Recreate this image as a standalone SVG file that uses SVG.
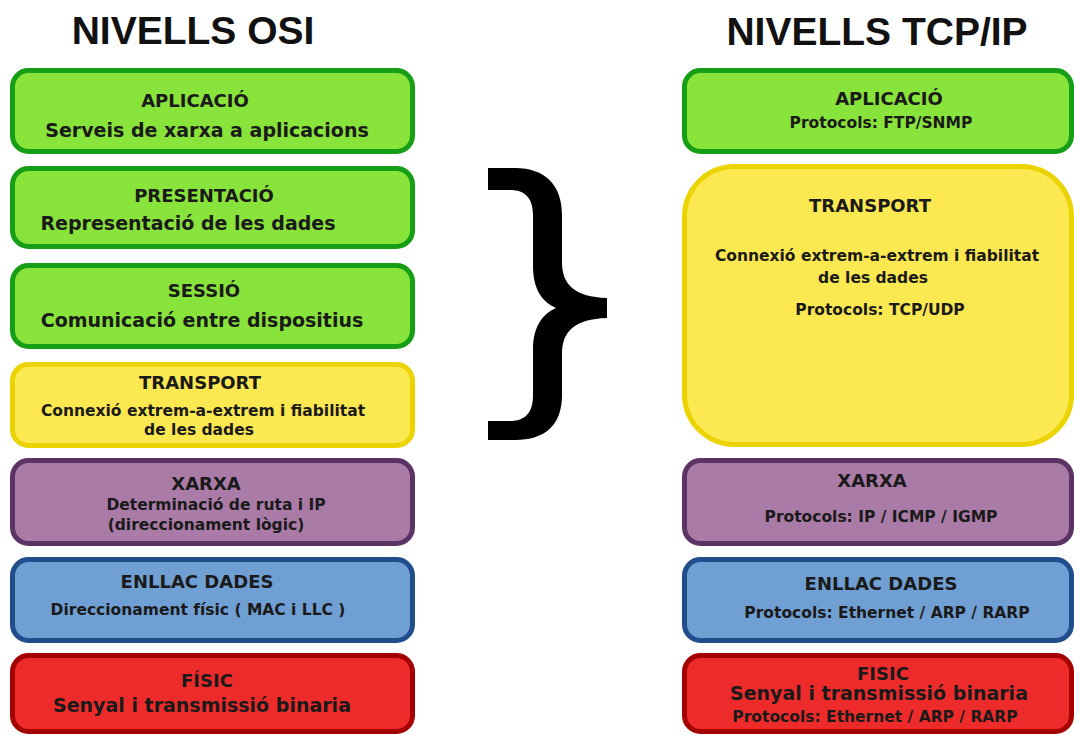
<svg xmlns="http://www.w3.org/2000/svg" width="1074" height="735" viewBox="0 0 1074 735">
  <style>
    .title { font-family: "Liberation Sans", Arial, sans-serif; font-weight: bold; font-size: 39px; fill: #111; text-anchor: middle; }
    .h, .t, .s { font-family: "DejaVu Sans", Verdana, sans-serif; font-weight: bold; fill: #1a1a1a; text-anchor: middle; }
    .h { font-size: 18px; }
    .t { font-size: 19px; }
    .s { font-size: 15.5px; }
    .box { stroke-width: 5; }
    .green { fill: #88e33a; stroke: #169e16; }
    .yellow { fill: #fce850; stroke: #ebd300; }
    .purple { fill: #ab7ba7; stroke: #5b3465; }
    .blue { fill: #6f9fd3; stroke: #204e8b; }
    .red { fill: #ee2b2b; stroke: #a50000; }
  </style>
  <rect width="1074" height="735" fill="#ffffff"/>

  <text class="title" x="193" y="44">NIVELLS OSI</text>
  <text class="title" x="877" y="45">NIVELLS TCP/IP</text>

  <!-- OSI stack -->
  <g id="osi-aplicacio">
    <rect class="box green" x="12.5" y="70.5" width="400" height="81" rx="16"/>
    <text class="h" x="195" y="107">APLICACIÓ</text>
    <text class="t" x="207" y="137">Serveis de xarxa a aplicacions</text>
  </g>
  <g id="osi-presentacio">
    <rect class="box green" x="12.5" y="168.5" width="400" height="78" rx="16"/>
    <text class="h" x="204" y="202">PRESENTACIÓ</text>
    <text class="t" x="188" y="230">Representació de les dades</text>
  </g>
  <g id="osi-sessio">
    <rect class="box green" x="12.5" y="265.5" width="400" height="81" rx="16"/>
    <text class="h" x="204" y="297">SESSIÓ</text>
    <text class="t" x="202" y="327">Comunicació entre dispositius</text>
  </g>
  <g id="osi-transport">
    <rect class="box yellow" x="12.5" y="364.5" width="400" height="81" rx="16"/>
    <text class="h" x="200" y="389">TRANSPORT</text>
    <text class="s" x="203" y="416">Connexió extrem-a-extrem i fiabilitat</text>
    <text class="s" x="199" y="435">de les dades</text>
  </g>
  <g id="osi-xarxa">
    <rect class="box purple" x="12.5" y="460.5" width="400" height="83" rx="16"/>
    <text class="h" x="206" y="490">XARXA</text>
    <text class="s" x="216" y="510">Determinació de ruta i IP</text>
    <text class="s" x="206" y="530">(direccionament lògic)</text>
  </g>
  <g id="osi-enllac">
    <rect class="box blue" x="12.5" y="559.5" width="400" height="81" rx="16"/>
    <text class="h" x="197" y="588">ENLLAC DADES</text>
    <text class="s" x="198" y="615">Direccionament físic ( MAC i LLC )</text>
  </g>
  <g id="osi-fisic">
    <rect class="box red" x="12.5" y="655.5" width="400" height="76" rx="16"/>
    <text class="h" x="207" y="687">FÍSIC</text>
    <text class="t" x="202" y="712">Senyal i transmissió binaria</text>
  </g>

  <!-- TCP/IP stack -->
  <g id="tcp-aplicacio">
    <rect class="box green" x="684.5" y="70.5" width="387" height="81" rx="16"/>
    <text class="h" x="889" y="105">APLICACIÓ</text>
    <text class="s" x="881" y="128">Protocols: FTP/SNMP</text>
  </g>
  <g id="tcp-transport">
    <rect class="box yellow" x="684.5" y="166.5" width="387" height="278" rx="50"/>
    <text class="h" x="870" y="212">TRANSPORT</text>
    <text class="s" x="877" y="261">Connexió extrem-a-extrem i fiabilitat</text>
    <text class="s" x="873" y="283">de les dades</text>
    <text class="s" x="880" y="315">Protocols: TCP/UDP</text>
  </g>
  <g id="tcp-xarxa">
    <rect class="box purple" x="684.5" y="460.5" width="387" height="83" rx="16"/>
    <text class="h" x="872" y="487">XARXA</text>
    <text class="s" x="881" y="522">Protocols: IP / ICMP / IGMP</text>
  </g>
  <g id="tcp-enllac">
    <rect class="box blue" x="684.5" y="559.5" width="387" height="81" rx="16"/>
    <text class="h" x="881" y="590">ENLLAC DADES</text>
    <text class="s" x="887" y="618">Protocols: Ethernet / ARP / RARP</text>
  </g>
  <g id="tcp-fisic">
    <rect class="box red" x="684.5" y="655.5" width="387" height="76" rx="16"/>
    <text class="h" x="883" y="680">FISIC</text>
    <text class="t" x="879" y="700">Senyal i transmissió binaria</text>
    <text class="s" x="875" y="722">Protocols: Ethernet / ARP / RARP</text>
  </g>

  <!-- brace grouping the upper OSI layers -->
  <g id="connectors">
    <path fill="#000" d="M488 168 L515 168 C545 168 562 185 562 215 L562 262 C562 285 575 297 607 298 L607 318 C575 319 562 331 562 354 L562 395 C562 425 545 440 515 440 L488 440 L488 421 L510 421 C525 421 533 413 533 395 L533 350 C533 330 540 315 556 308 C540 301 533 286 533 266 L533 215 C533 198 525 190 510 190 L488 190 Z"/>
  </g>
</svg>
